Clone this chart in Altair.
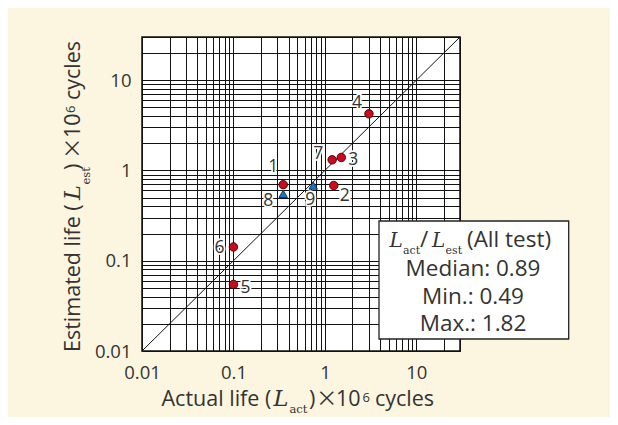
import altair as alt
import pandas as pd

# ---- data ----
labels = ["1", "2", "3", "4", "5", "6", "7", "8", "9"]
actual = [0.35, 1.25, 1.51, 3.03, 0.10, 0.10, 1.20, 0.35, 0.745]
estimated = [0.695, 0.68, 1.39, 4.23, 0.0546, 0.142, 1.31, 0.55, 0.68]
group = ["circle", "circle", "circle", "circle", "circle", "circle", "circle", "triangle", "triangle"]

diag_x = [0.01, 30]
diag_y = [0.01, 30]

axis_domain = [0.01, 30]
tick_values = [0.01, 0.1, 1, 10]
tick_labels = ["0.01", "0.1", "1", "10"]
grid_values = [0.01, 0.02, 0.03, 0.04, 0.05, 0.06, 0.07, 0.08, 0.09,
               0.1, 0.2, 0.3, 0.4, 0.5, 0.6, 0.7, 0.8, 0.9,
               1, 2, 3, 4, 5, 6, 7, 8, 9,
               10, 20, 30]

stats_lines = ["Median: 0.89", "Min.: 0.49", "Max.: 1.82"]

# ---- styling ----
SANS = "Open Sans"
SERIF = "DejaVu Serif"
CJK = "Noto Sans CJK JP"
TXT = "#333333"
BG = "#fcf6e1"
W, H = 318, 314

df = pd.DataFrame({"label": labels, "actual": actual, "estimated": estimated, "group": group})
diag = pd.DataFrame({"x": diag_x, "y": diag_y})

label_expr = " : ".join(
    f"datum.value == {v} ? '{t}'" for v, t in zip(tick_values, tick_labels)
) + " : ''"

xscale = alt.Scale(type="log", domain=axis_domain, nice=False)
yscale = alt.Scale(type="log", domain=axis_domain, nice=False)

common_axis = dict(values=grid_values, labelExpr=label_expr, title=None, grid=True,
                   gridColor="#111111", gridWidth=1, domain=False, ticks=False, tickSize=0,
                   labelFontSize=18.5, labelFont=SANS, labelColor=TXT,
                   labelFlush=False, labelOverlap=False)
xaxis = alt.Axis(labelPadding=12, **common_axis)
yaxis = alt.Axis(labelPadding=11, **common_axis)

base = alt.Chart(diag).mark_line(color="#111", strokeWidth=1).encode(
    x=alt.X("x:Q", scale=xscale, axis=xaxis),
    y=alt.Y("y:Q", scale=yscale, axis=yaxis),
)

pts = alt.Chart(df).mark_point(filled=True, size=72, strokeWidth=0.9, opacity=1).encode(
    x=alt.X("actual:Q", scale=xscale),
    y=alt.Y("estimated:Q", scale=yscale),
    shape=alt.Shape("group:N", scale=alt.Scale(domain=["circle", "triangle"], range=["circle", "triangle-up"]), legend=None),
    fill=alt.Fill("group:N", scale=alt.Scale(domain=["circle", "triangle"], range=["#cc0a1e", "#1c76c0"]), legend=None),
    stroke=alt.Stroke("group:N", scale=alt.Scale(domain=["circle", "triangle"], range=["#3a0000", "#0b2a4a"]), legend=None),
)

label_offsets = {"1": (-10, -18), "2": (11, 10), "3": (12, 3), "4": (-12, -11), "5": (12, 4),
                 "6": (-14, 1), "7": (-14, -6), "8": (-15, 7), "9": (-3, 14)}

label_layers = []
for lab, (ddx, ddy) in label_offsets.items():
    for halo in (True, False):
        kw = dict(fontSize=17.5, font=SANS, align="center", baseline="middle", dx=ddx, dy=ddy)
        if halo:
            kw.update(fill="white", stroke="white", strokeWidth=3.5)
        else:
            kw.update(fill=TXT)
        label_layers.append(
            alt.Chart(df).mark_text(**kw).encode(
                x=alt.X("actual:Q", scale=xscale),
                y=alt.Y("estimated:Q", scale=yscale),
                text="label:N",
            ).transform_filter(alt.datum.label == lab)
        )

one = pd.DataFrame({"k": [0]})


def piece(text, x, y, size, font=SANS, style="normal", angle=0, align="left", baseline="alphabetic"):
    kw = dict(text=text, fontSize=size, font=font, fontStyle=style, color=TXT,
              align=align, baseline=baseline)
    if angle:
        kw["angle"] = angle
    return alt.Chart(one).mark_text(**kw).encode(x=alt.value(x), y=alt.value(y))


# x-axis title: Actual life (L_act)x10^6 cycles
xb = 369
xt = [
    piece("Actual life (", 19.5, xb, 21.5),
    piece("L", 131.5, xb, 22.5, SERIF, "italic"),
    piece("act", 147.5, xb + 7, 11.5, SERIF),
    piece(")", 167, xb, 21.5),
    piece("\u00d7", 174, xb, 21.5, CJK),
    piece("10", 194, xb, 21.5),
    piece("6", 220.5, xb - 4.5, 13),
    piece("cycles", 233, xb, 21.5),
]

# y-axis title (rotated): Estimated life (L_est)x10^6 cycles
yb = -62.5
yt = [
    piece("Estimated life (", yb, 315, 21.5, angle=270),
    piece("L", yb, 163, 22.5, SERIF, "italic", angle=270),
    piece("est", yb + 10, 147.5, 11.5, SERIF, angle=270),
    piece(")", yb, 133, 21.5, angle=270),
    piece("\u00d7", yb, 122, 21.5, CJK, angle=270),
    piece("10", yb, 101, 21.5, angle=270),
    piece("6", yb - 4.5, 76, 13, angle=270),
    piece("cycles", yb, 63, 21.5, angle=270),
]

box = alt.Chart(one).mark_rect(fill="white", stroke="#222", strokeWidth=1.3).encode(
    x=alt.value(237), x2=alt.value(426.7), y=alt.value(184), y2=alt.value(302)
)

bt = [
    piece("L", 247.5, 210, 20, SERIF, "italic"),
    piece("act", 261, 217, 11, SERIF),
    piece("/", 278, 210, 22.5),
    piece("L", 290, 210, 20, SERIF, "italic"),
    piece("est", 303.5, 217, 11, SERIF),
    piece("(All test)", 325, 210, 22.5),
]
for i, line in enumerate(stats_lines):
    bt.append(piece(line, 331, 239 + i * 27.5, 22.5, align="center"))

chart = alt.layer(base, pts, *label_layers, *xt, *yt, box, *bt).properties(
    width=W, height=H,
    background=BG,
    padding={"left": 134, "top": 29, "right": 150, "bottom": 66},
    autosize=alt.AutoSizeParams(type="none"),
).configure_view(
    fill="white", stroke="#111", strokeWidth=1.5
)

chart.save("out.html", embed_options={"renderer": "svg", "actions": False})
